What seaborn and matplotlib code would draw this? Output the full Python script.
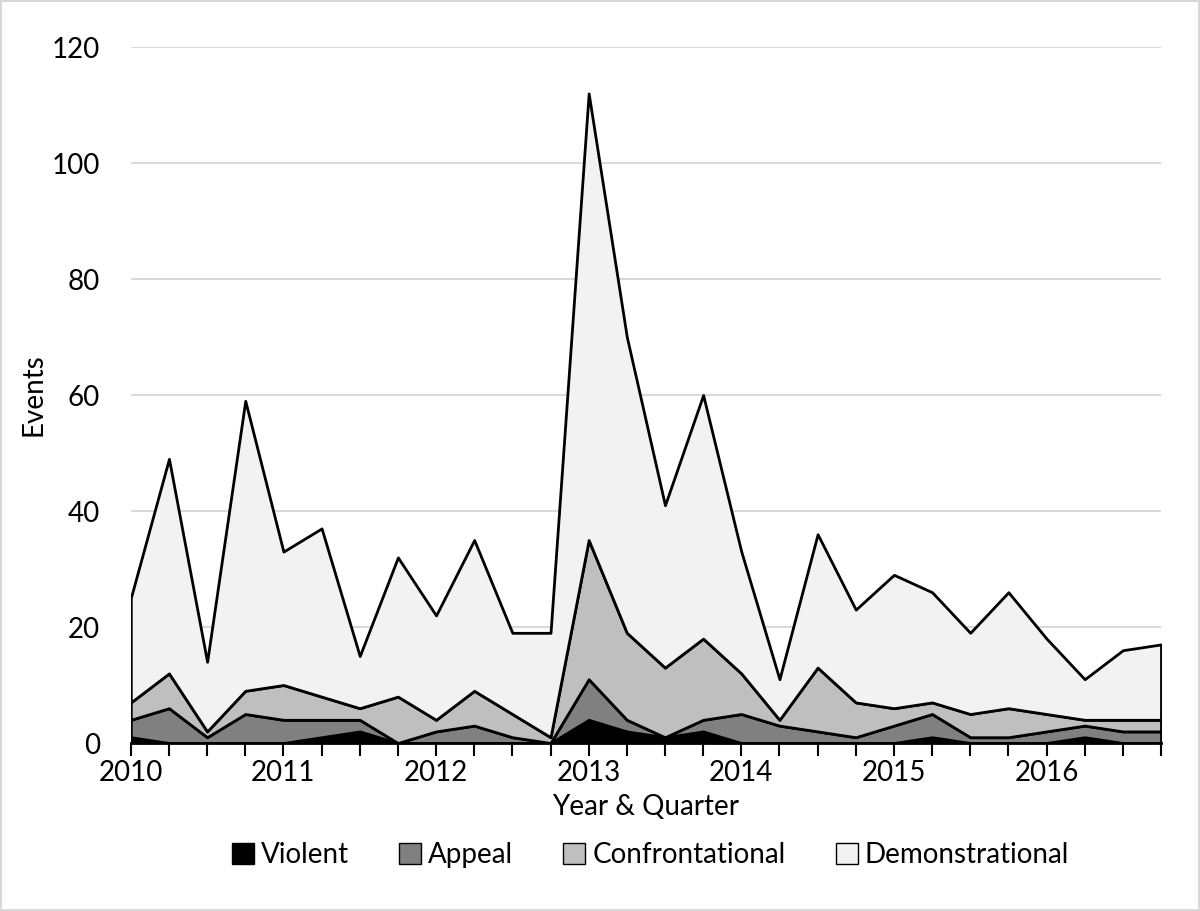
import matplotlib.pyplot as plt
import seaborn as sns
import numpy as np
from matplotlib.patches import Patch

# DATA (events per quarter, 2010 Q1 .. 2016 Q4)

quarters = [f"{y} Q{q}" for y in range(2010, 2017) for q in range(1, 5)]
tick_labels = [q[:4] if q.endswith("Q1") else "" for q in quarters]

violent = [1, 0, 0, 0, 0, 1, 2, 0, 0, 0, 0, 0, 4, 2, 1, 2, 0, 0, 0, 0, 0, 1, 0, 0, 0, 1, 0, 0]
appeal = [3, 6, 1, 5, 4, 3, 2, 0, 2, 3, 1, 0, 7, 2, 0, 2, 5, 3, 2, 1, 3, 4, 1, 1, 2, 2, 2, 2]
confrontational = [3, 6, 1, 4, 6, 4, 2, 8, 2, 6, 4, 1, 24, 15, 12, 14, 7, 1, 11, 6, 3, 2, 4, 5, 3, 1, 2, 2]
demonstrational = [18, 37, 12, 50, 23, 29, 9, 24, 18, 26, 14, 18, 77, 51, 28, 42, 21, 7, 23, 16, 23, 19, 14, 20, 13, 7, 12, 13]

series_names = ["Violent", "Appeal", "Confrontational", "Demonstrational"]
series_colors = ["#000000", "#808080", "#bfbfbf", "#f2f2f2"]

# STYLE

sns.set_theme(style="white")
plt.rcParams['font.family'] = ['Lato', 'DejaVu Sans']

fig = plt.figure(figsize=(12, 9.11), dpi=100)
fig.patch.set_edgecolor("#d9d9d9")
fig.patch.set_linewidth(1.5)
ax = fig.add_axes([0.109, 0.1844, 0.8585, 0.764])

x = np.arange(len(quarters))
ax.stackplot(x, violent, appeal, confrontational, demonstrational,
             colors=series_colors, edgecolor="black", linewidth=2, zorder=3)

## AXES
ax.set_xlim(0, len(quarters) - 1)
ax.set_ylim(0, 120)
ax.set_yticks(np.arange(0, 121, 20))
ax.yaxis.grid(True, color="#d9d9d9", linewidth=1.5, zorder=0)
ax.xaxis.grid(False)
for s in ["top", "right", "left"]:
    ax.spines[s].set_visible(False)
ax.spines["bottom"].set_color("black")
ax.spines["bottom"].set_linewidth(2)
ax.spines["bottom"].set_zorder(4)

ax.set_xticks(x)
ax.set_xticklabels(tick_labels)
ax.tick_params(axis="x", length=9, width=1.5, color="black", direction="out",
               bottom=True, labelsize=20, labelcolor="black", pad=3)
ax.tick_params(axis="y", length=0, labelsize=20, labelcolor="black", pad=22)

ax.set_xlabel("Year & Quarter", fontsize=20, color="black", labelpad=6)
ax.set_ylabel("Events", fontsize=20, color="black", labelpad=4)

## LEGEND
handles = [Patch(facecolor=c, edgecolor="black", linewidth=1) for c in series_colors]
fig.legend(handles, series_names, loc="center", bbox_to_anchor=(0.542, 0.0615), ncol=4,
           frameon=False, fontsize=20, handlelength=0.8, handleheight=0.8,
           handletextpad=0.25, columnspacing=1.8, labelcolor="black")

plt.savefig("out.png", dpi=100)
